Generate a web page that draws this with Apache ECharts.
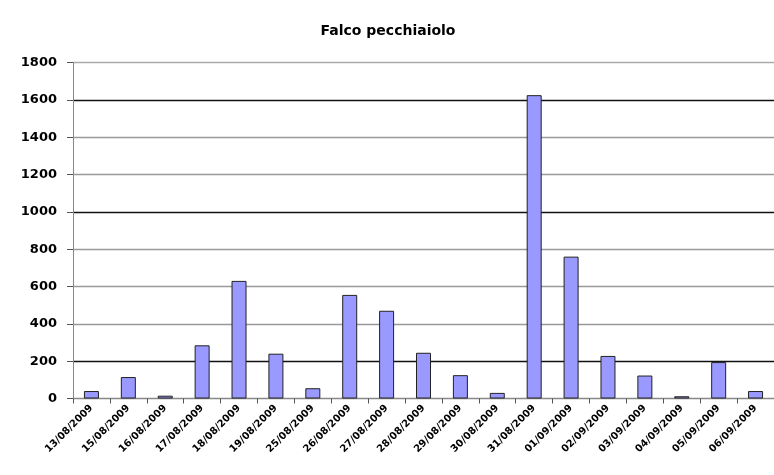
<!DOCTYPE html>
<html>
<head>
<meta charset="utf-8">
<script src="https://cdn.jsdelivr.net/npm/echarts@6/dist/echarts.min.js"></script>
<style>html,body{margin:0;padding:0;background:#fff}#c{width:774px;height:475px}</style>
</head>
<body>
<div id="c"></div>
<script>
const titleText = "Falco pecchiaiolo";
const categories = ["13/08/2009","15/08/2009","16/08/2009","17/08/2009","18/08/2009","19/08/2009","25/08/2009","26/08/2009","27/08/2009","28/08/2009","29/08/2009","30/08/2009","31/08/2009","01/09/2009","02/09/2009","03/09/2009","04/09/2009","05/09/2009","06/09/2009"];
const values = [40,115,15,285,630,240,55,555,470,245,125,30,1625,760,228,123,12,195,40];
const yTicks = [0,200,400,600,800,1000,1200,1400,1600,1800];

const chart = echarts.init(document.getElementById('c'));
chart.setOption({
  animation: false,
  title: {
    text: titleText, left: 383, top: 19, textAlign: 'center',
    textStyle: { fontFamily: 'DejaVu Sans', fontWeight: 'bold', fontSize: 14, color: '#000' }
  },
  grid: { left: 73, top: 62.5, width: 712, height: 336, containLabel: false },
  xAxis: {
    type: 'category', data: categories,
    axisLine: { lineStyle: { color: '#888', width: 1 } },
    axisTick: { show: true, length: 5, lineStyle: { color: '#555' } },
    axisLabel: { rotate: 45, fontSize: 10, fontFamily: 'DejaVu Sans', fontWeight: 'bold', color: '#000', margin: 8, interval: 0 }
  },
  yAxis: {
    type: 'value', min: 0, max: 1800, interval: 200,
    axisLine: { show: true, lineStyle: { color: '#888' } },
    axisTick: { show: true, length: 6, lineStyle: { color: '#555' } },
    axisLabel: { fontSize: 13, fontFamily: 'DejaVu Sans', fontWeight: 'bold', color: '#000', margin: 16,
      formatter: v => yTicks.includes(v) ? String(v) : '' },
    splitLine: { show: true, lineStyle: { width: 1.4, color: ['#888','#111','#999','#999','#999','#111','#999','#999','#111','#aaa'] } }
  },
  series: [{
    type: 'bar', data: values, barWidth: 15,
    itemStyle: { color: '#9999ff', borderColor: '#222', borderWidth: 1 }
  }]
});
</script>
</body>
</html>
